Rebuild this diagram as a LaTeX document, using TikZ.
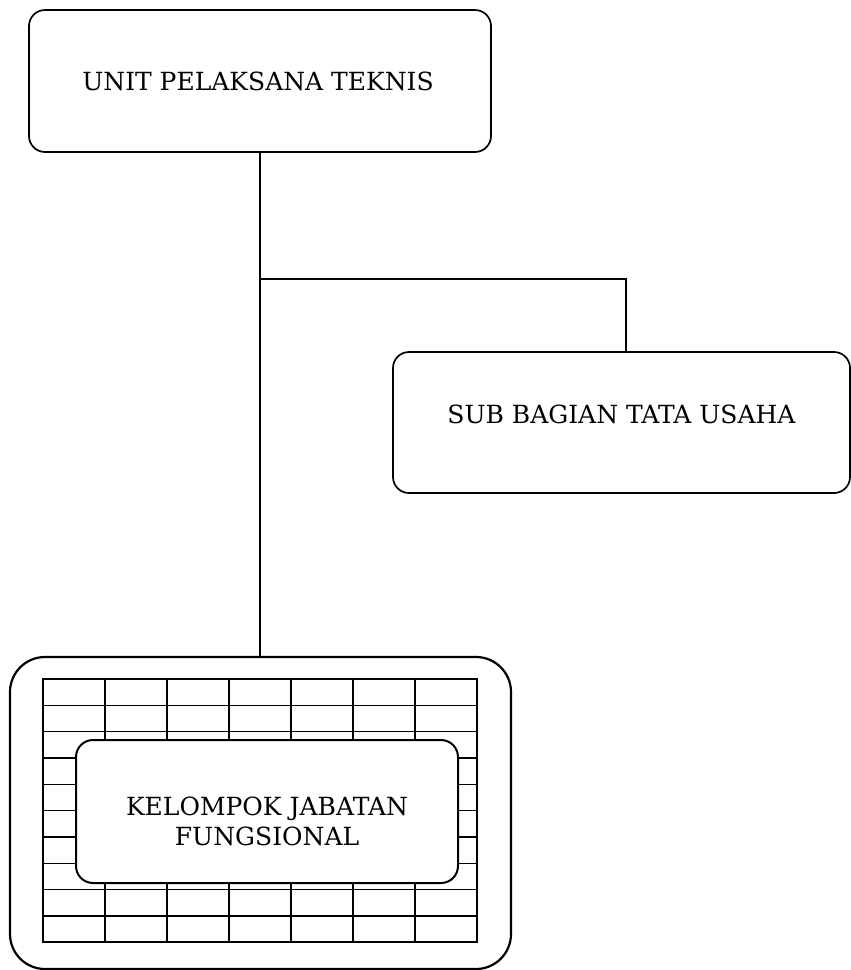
\documentclass[tikz,border=0pt]{standalone}
\usepackage{fontspec}
\setmainfont{DejaVu Serif}
\begin{document}
\begin{tikzpicture}[x=1pt,y=-1pt,
  box/.style={draw, line width=1.7pt, rounded corners=16pt, inner sep=0pt},
  bigbox/.style={draw, line width=2.2pt, rounded corners=35pt, inner sep=0pt},
  innerbox/.style={draw, fill=white, line width=2pt, rounded corners=17pt, inner sep=0pt},
  conn/.style={line width=1.5pt},
  gridline/.style={line width=1.6pt},
  gridframe/.style={line width=2.2pt},
  lbl/.style={font=\fontsize{25}{30}\selectfont, align=center, inner sep=0pt}]
\useasboundingbox (0,0) rectangle (851,970);
% top box
\node[box, minimum width=462pt, minimum height=142pt] (upt) at (260,81) {};
\node[lbl] (upttxt) at ([xshift=-2pt]upt.center) {UNIT PELAKSANA TEKNIS};
% sub box
\node[box, minimum width=457pt, minimum height=141pt] (sub) at (621.5,422.5) {};
\node[lbl] (subtxt) at ([yshift=8.5pt]sub.center) {SUB BAGIAN TATA USAHA};
% bottom outer box
\node[bigbox, minimum width=501pt, minimum height=312pt] (kjf) at (260.5,813) {};
% grid
\foreach \x in {105,167,229,291,353,415} {
  \draw[gridline] (\x,679) -- (\x,942);
}
\foreach \y in {705.5,731.5,758,784.5,810.5,837,863.5,889.5,916} {
  \draw[gridline] (43,\y) -- (477,\y);
}
\draw[gridframe] (43,679) rectangle (477,942);
% inner box
\node[innerbox, minimum width=382pt, minimum height=143pt] (kjfin) at (267,811.5) {};
\node[lbl] (kjftxt) at ([yshift=-9.5pt]kjfin.center) {KELOMPOK JABATAN\\FUNGSIONAL};
% connectors
\coordinate (br) at (upt.south |- 0,279);
\draw[conn] (upt.south) -- (upt.south |- kjf.north);
\draw[conn] (br) -| ([xshift=4.5pt]sub.north);
\end{tikzpicture}
\end{document}
